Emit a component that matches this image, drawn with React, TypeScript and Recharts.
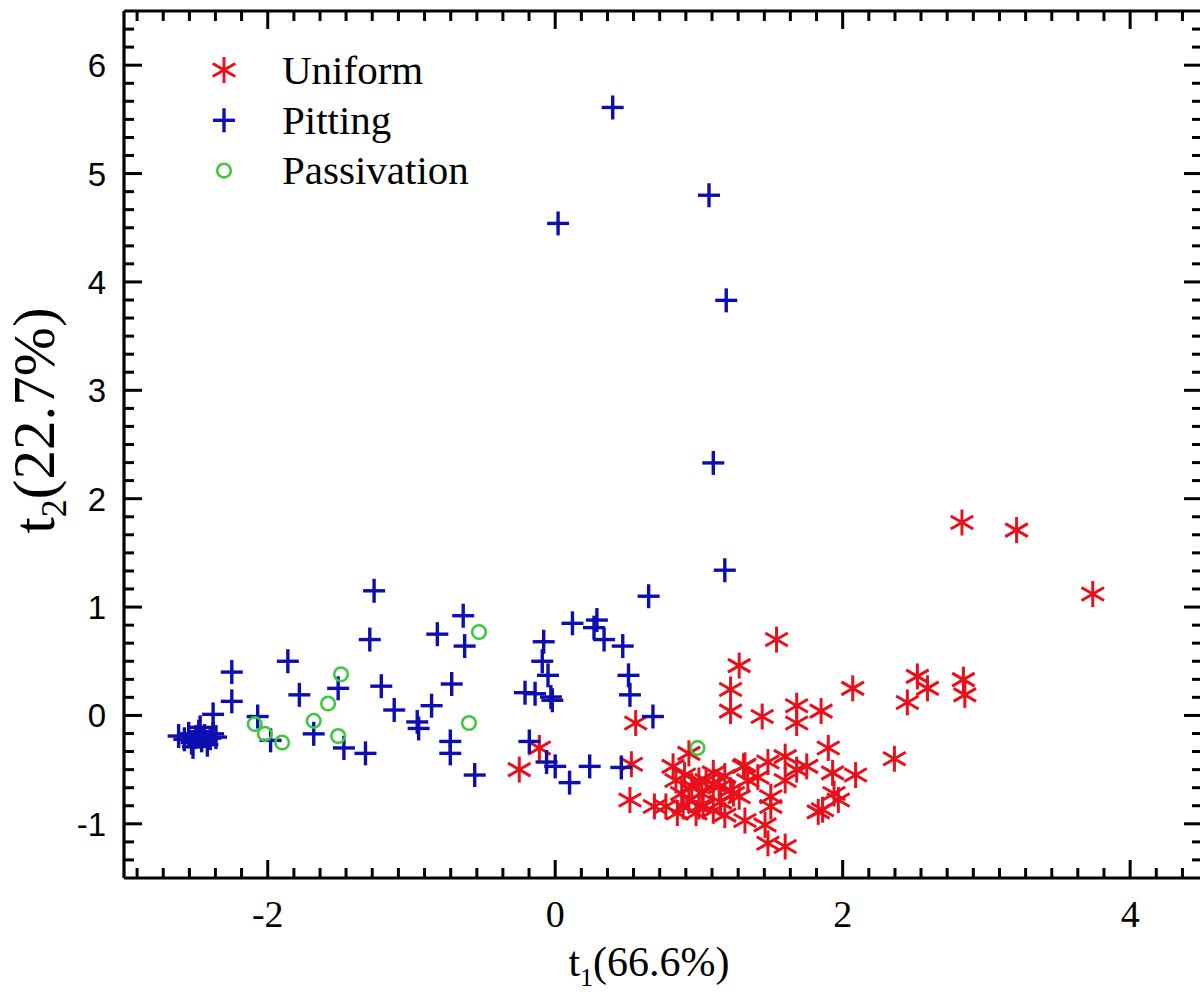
import { Scatter, ScatterChart, XAxis, YAxis } from "recharts";

// scores (t1, t2)
const uniform = [
	{ x: -0.25, y: -0.5 }, { x: -0.11, y: -0.3 }, { x: 0.56, y: -0.07 }, { x: 0.53, y: -0.45 },
	{ x: 0.52, y: -0.78 }, { x: 0.69, y: -0.84 }, { x: 1.28, y: 0.46 }, { x: 1.22, y: 0.24 },
	{ x: 1.22, y: 0.04 }, { x: 0.93, y: -0.35 }, { x: 1.54, y: 0.7 }, { x: 1.44, y: -0.01 },
	{ x: 1.68, y: 0.09 }, { x: 1.68, y: -0.07 }, { x: 1.85, y: 0.04 }, { x: 2.07, y: 0.25 },
	{ x: 2.52, y: 0.36 }, { x: 2.59, y: 0.25 }, { x: 2.45, y: 0.12 }, { x: 2.84, y: 0.33 },
	{ x: 2.85, y: 0.19 }, { x: 2.36, y: -0.4 }, { x: 2.83, y: 1.78 }, { x: 3.21, y: 1.71 },
	{ x: 3.74, y: 1.12 }, { x: 1.9, y: -0.3 }, { x: 2.09, y: -0.55 }, { x: 1.93, y: -0.53 },
	{ x: 1.75, y: -0.47 }, { x: 1.6, y: -0.38 }, { x: 1.48, y: -0.43 }, { x: 1.6, y: -0.6 },
	{ x: 1.68, y: -0.5 }, { x: 1.32, y: -0.46 }, { x: 1.41, y: -0.57 }, { x: 1.5, y: -0.84 },
	{ x: 1.5, y: -0.75 }, { x: 1.46, y: -1.01 }, { x: 1.48, y: -1.18 }, { x: 1.6, y: -1.21 },
	{ x: 1.32, y: -0.97 }, { x: 1.18, y: -0.92 }, { x: 1.03, y: -0.84 }, { x: 1.94, y: -0.72 },
	{ x: 1.97, y: -0.78 }, { x: 1.83, y: -0.89 }, { x: 1.86, y: -0.87 }, { x: 1.1, y: -0.64 },
	{ x: 1.22, y: -0.69 }, { x: 1.28, y: -0.75 }, { x: 1.34, y: -0.6 }, { x: 1.0, y: -0.6 },
	{ x: 0.82, y: -0.47 }, { x: 0.84, y: -0.6 }, { x: 0.88, y: -0.72 }, { x: 0.89, y: -0.84 },
	{ x: 1.0, y: -0.84 }, { x: 1.05, y: -0.6 }, { x: 1.14, y: -0.66 }, { x: 1.24, y: -0.72 },
	{ x: 1.31, y: -0.47 }, { x: 1.1, y: -0.53 }, { x: 0.93, y: -0.78 }, { x: 0.77, y: -0.84 },
	{ x: 0.95, y: -0.65 }, { x: 1.02, y: -0.72 }, { x: 1.15, y: -0.8 }, { x: 0.9, y: -0.55 },
	{ x: 1.18, y: -0.56 }, { x: 1.1, y: -0.88 }, { x: 0.98, y: -0.9 }, { x: 0.85, y: -0.9 },
];

const pitting = [
	{ x: 0.4, y: 5.61 }, { x: 1.07, y: 4.8 }, { x: 0.02, y: 4.54 }, { x: 1.19, y: 3.83 },
	{ x: 1.1, y: 2.33 }, { x: 1.18, y: 1.34 }, { x: -1.26, y: 1.15 }, { x: -1.29, y: 0.7 },
	{ x: -0.82, y: 0.75 }, { x: -1.86, y: 0.5 }, { x: -2.25, y: 0.4 }, { x: -2.25, y: 0.13 },
	{ x: -2.38, y: 0.01 }, { x: -1.78, y: 0.19 }, { x: -1.51, y: 0.25 }, { x: -1.21, y: 0.27 },
	{ x: -1.12, y: 0.05 }, { x: -0.86, y: 0.09 }, { x: -0.96, y: -0.06 }, { x: -0.95, y: -0.12 },
	{ x: -1.68, y: -0.17 }, { x: -1.47, y: -0.3 }, { x: -1.32, y: -0.35 }, { x: -2.07, y: -0.01 },
	{ x: -1.98, y: -0.23 }, { x: 0.65, y: 1.1 }, { x: -0.64, y: 0.92 }, { x: -0.63, y: 0.64 },
	{ x: -0.72, y: 0.29 }, { x: -0.73, y: -0.24 }, { x: -0.73, y: -0.35 }, { x: -0.56, y: -0.55 },
	{ x: 0.12, y: 0.85 }, { x: 0.29, y: 0.88 }, { x: 0.27, y: 0.81 }, { x: 0.34, y: 0.7 },
	{ x: 0.47, y: 0.64 }, { x: -0.08, y: 0.68 }, { x: -0.09, y: 0.5 }, { x: -0.05, y: 0.37 },
	{ x: -0.21, y: 0.21 }, { x: -0.14, y: 0.2 }, { x: -0.03, y: 0.17 }, { x: -0.02, y: 0.14 },
	{ x: 0.51, y: 0.37 }, { x: 0.52, y: 0.19 }, { x: 0.68, y: -0.01 }, { x: -0.18, y: -0.24 },
	{ x: -0.06, y: -0.43 }, { x: 0.0, y: -0.47 }, { x: 0.1, y: -0.62 }, { x: 0.24, y: -0.47 },
	{ x: 0.46, y: -0.48 }, { x: -2.62, y: -0.19 }, { x: -2.58, y: -0.22 }, { x: -2.55, y: -0.17 },
	{ x: -2.53, y: -0.25 }, { x: -2.5, y: -0.2 }, { x: -2.48, y: -0.15 }, { x: -2.46, y: -0.23 },
	{ x: -2.44, y: -0.19 }, { x: -2.42, y: -0.27 }, { x: -2.4, y: -0.21 }, { x: -2.38, y: -0.17 },
	{ x: -2.36, y: -0.2 }, { x: -2.52, y: -0.29 }, { x: -2.47, y: -0.11 },
];

const passivation = [
	{ x: -1.49, y: 0.38 }, { x: -1.58, y: 0.11 }, { x: -1.68, y: -0.05 }, { x: -1.51, y: -0.19 },
	{ x: -2.09, y: -0.08 }, { x: -2.02, y: -0.17 }, { x: -1.9, y: -0.25 }, { x: -0.53, y: 0.77 },
	{ x: -0.6, y: -0.07 }, { x: 0.99, y: -0.3 },
];

const seriesNames = ["Uniform", "Pitting", "Passivation"];

const xMajorTicks = [-2, 0, 2, 4];
const xMinorTicks = [
	-2.909, -2.727, -2.545, -2.364, -2.182, -1.818, -1.636, -1.455, -1.273, -1.091,
	-0.909, -0.727, -0.545, -0.364, -0.182, 0.182, 0.364, 0.545, 0.727, 0.909, 1.091,
	1.273, 1.455, 1.636, 1.818, 2.182, 2.364, 2.545, 2.727, 2.909, 3.091, 3.273, 3.455,
	3.636, 3.818, 4.182, 4.364,
];
const yMajorTicks = [-1, 0, 1, 2, 3, 4, 5, 6];
const yMinorTicks = [
	-1.333, -1.167, -0.833, -0.667, -0.5, -0.333, -0.167, 0.167, 0.333, 0.5, 0.667, 0.833,
	1.167, 1.333, 1.5, 1.667, 1.833, 2.167, 2.333, 2.5, 2.667, 2.833, 3.167, 3.333, 3.5,
	3.667, 3.833, 4.167, 4.333, 4.5, 4.667, 4.833, 5.167, 5.333, 5.5, 5.667, 5.833, 6.167,
	6.333,
];

const X_DOMAIN: [number, number] = [-3, 4.5];
const Y_DOMAIN: [number, number] = [-1.5, 6.5];

const RED = "#e8101a";
const BLUE = "#0e0eb0";
const GREEN = "#3fc83f";
const SERIF = "'Liberation Serif', 'Times New Roman', serif";
const SANS = "'Liberation Sans', Arial, sans-serif";

function Star({ cx, cy }: any) {
	const r = 13;
	const dx = r * 0.866;
	const dy = r * 0.5;
	return (
		<g stroke={RED} strokeWidth={3}>
			<line x1={cx} x2={cx} y1={cy - r} y2={cy + r} />
			<line x1={cx - dx} x2={cx + dx} y1={cy - dy} y2={cy + dy} />
			<line x1={cx - dx} x2={cx + dx} y1={cy + dy} y2={cy - dy} />
		</g>
	);
}

function Plus({ cx, cy }: any) {
	return (
		<g stroke={BLUE} strokeWidth={3.4}>
			<line x1={cx - 11} x2={cx + 11} y1={cy} y2={cy} />
			<line x1={cx} x2={cx} y1={cy - 12} y2={cy + 12} />
		</g>
	);
}

function Ring({ cx, cy }: any) {
	return <circle cx={cx} cy={cy} fill="none" r={6.8} stroke={GREEN} strokeWidth={2.6} />;
}

const markers = [Star, Plus, Ring];

// tick-only axes still need a truthy tick, otherwise recharts drops the tick lines too
function NoLabel() {
	return <g />;
}

function XTick({ x, y, payload }: any) {
	return (
		<text fill="#000" fontFamily={SERIF} fontSize={38} textAnchor="middle" x={x} y={y + 41}>
			{payload.value}
		</text>
	);
}

function YTick({ x, y, payload }: any) {
	return (
		<text fill="#000" fontFamily={SANS} fontSize={33} textAnchor="end" x={x - 10} y={y + 12}>
			{payload.value}
		</text>
	);
}

function XTitle({ viewBox }: any) {
	const cx = viewBox.x + viewBox.width / 2 - 14;
	const cy = viewBox.y + 98;
	return (
		<text fill="#000" fontFamily={SERIF} fontSize={42} textAnchor="middle" x={cx} y={cy}>
			<tspan>t</tspan>
			<tspan dy={10} fontSize={26}>1</tspan>
			<tspan dy={-10}>(66.6%)</tspan>
		</text>
	);
}

function YTitle({ viewBox }: any) {
	const cx = 54;
	const cy = viewBox.y + viewBox.height / 2 - 24;
	return (
		<text
			fill="#000"
			fontFamily={SERIF}
			fontSize={59}
			textAnchor="middle"
			transform={`rotate(-90, ${cx}, ${cy})`}
			x={cx}
			y={cy}
		>
			<tspan>t</tspan>
			<tspan dy={12} fontSize={36}>2</tspan>
			<tspan dy={-12}>(22.7%)</tspan>
		</text>
	);
}

function LegendBox() {
	return (
		<svg
			height={220}
			style={{ left: 0, pointerEvents: "none", position: "absolute", top: 0 }}
			width={520}
		>
			{seriesNames.map((name, i) => {
				const Marker = markers[i];
				const cy = 70 + i * 50.3;
				return (
					<g key={name}>
						<Marker cx={224} cy={cy} />
						<text fill="#000" fontFamily={SERIF} fontSize={41} x={282} y={cy + 13.5}>
							{name}
						</text>
					</g>
				);
			})}
		</svg>
	);
}

const tickStroke = { stroke: "#000", strokeWidth: 3 };
const axisStroke = { stroke: "#000", strokeWidth: 3.2 };

export default function App() {
	return (
		<div
			style={{
				background: "#fff",
				height: 992,
				left: 0,
				overflow: "hidden",
				position: "fixed",
				top: 0,
				width: 1200,
			}}
		>
			<ScatterChart
				data={uniform}
				height={992}
				margin={{ bottom: 0, left: 0, right: 8, top: 11 }}
				width={1210}
			>
				{/* inward major / minor ticks on all four sides */}
				<XAxis allowDataOverflow axisLine={false} dataKey="x" domain={X_DOMAIN} height={1} interval={0} mirror orientation="bottom" tick={NoLabel} tickLine={tickStroke} tickSize={18} ticks={xMajorTicks} type="number" xAxisId="bMaj" />
				<XAxis allowDataOverflow axisLine={false} dataKey="x" domain={X_DOMAIN} height={1} interval={0} mirror orientation="bottom" tick={NoLabel} tickLine={tickStroke} tickSize={9} ticks={xMinorTicks} type="number" xAxisId="bMin" />
				<XAxis allowDataOverflow axisLine={axisStroke} dataKey="x" domain={X_DOMAIN} height={1} interval={0} mirror orientation="top" tick={NoLabel} tickLine={tickStroke} tickSize={18} ticks={xMajorTicks} type="number" xAxisId="tMaj" />
				<XAxis allowDataOverflow axisLine={false} dataKey="x" domain={X_DOMAIN} height={1} interval={0} mirror orientation="top" tick={NoLabel} tickLine={tickStroke} tickSize={9} ticks={xMinorTicks} type="number" xAxisId="tMin" />
				<YAxis allowDataOverflow axisLine={false} dataKey="y" domain={Y_DOMAIN} interval={0} mirror orientation="left" tick={NoLabel} tickLine={tickStroke} tickSize={18} ticks={yMajorTicks} type="number" width={1} yAxisId="lMaj" />
				<YAxis allowDataOverflow axisLine={false} dataKey="y" domain={Y_DOMAIN} interval={0} mirror orientation="left" tick={NoLabel} tickLine={tickStroke} tickSize={9} ticks={yMinorTicks} type="number" width={1} yAxisId="lMin" />
				<YAxis allowDataOverflow axisLine={axisStroke} dataKey="y" domain={Y_DOMAIN} interval={0} mirror orientation="right" tick={NoLabel} tickLine={tickStroke} tickSize={18} ticks={yMajorTicks} type="number" width={1} yAxisId="rMaj" />
				<YAxis allowDataOverflow axisLine={false} dataKey="y" domain={Y_DOMAIN} interval={0} mirror orientation="right" tick={NoLabel} tickLine={tickStroke} tickSize={9} ticks={yMinorTicks} type="number" width={1} yAxisId="rMin" />

				<XAxis
					allowDataOverflow
					axisLine={axisStroke}
					dataKey="x"
					domain={X_DOMAIN}
					height={114}
					interval={0}
					label={{ content: XTitle }}
					tick={XTick}
					tickLine={false}
					ticks={xMajorTicks}
					type="number"
					xAxisId="x"
				/>
				<YAxis
					allowDataOverflow
					axisLine={axisStroke}
					dataKey="y"
					domain={Y_DOMAIN}
					interval={0}
					label={{ content: YTitle }}
					tick={YTick}
					tickLine={false}
					ticks={yMajorTicks}
					type="number"
					width={124}
					yAxisId="y"
				/>

				<Scatter data={uniform} isAnimationActive={false} name="Uniform" shape={Star} xAxisId="x" yAxisId="y" />
				<Scatter data={pitting} isAnimationActive={false} name="Pitting" shape={Plus} xAxisId="x" yAxisId="y" />
				<Scatter data={passivation} isAnimationActive={false} name="Passivation" shape={Ring} xAxisId="x" yAxisId="y" />
			</ScatterChart>
			<LegendBox />
		</div>
	);
}
